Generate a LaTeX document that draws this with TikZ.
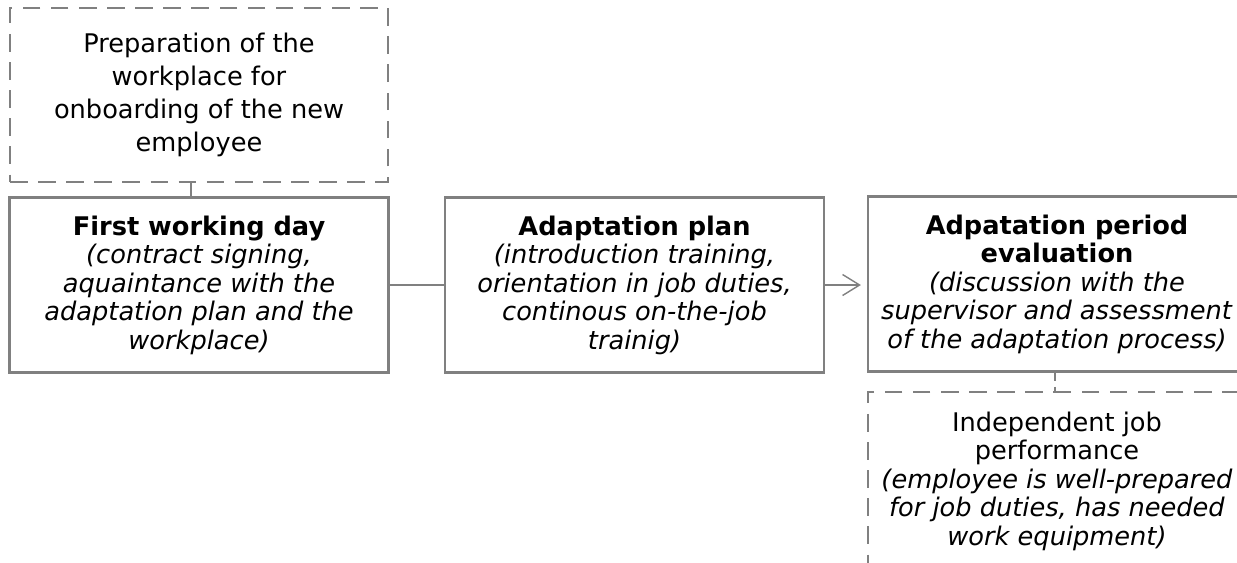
\documentclass[tikz,border=0pt]{standalone}
\usepackage{fontspec}
\setmainfont{DejaVu Sans}
\usetikzlibrary{arrows.meta}
\definecolor{linegray}{RGB}{128,128,128}

\begin{document}
\begin{tikzpicture}[x=0.02cm, y=-0.02cm,
    every node/.style={align=center, font=\fontsize{14.6}{16.2}\selectfont},
    stagebox/.style={draw=linegray, line width=1.3pt, minimum width=7.58cm, minimum height=3.5cm, inner sep=0pt},
    optbox/.style={stagebox, dash pattern=on 10pt off 6pt},
    link/.style={draw=linegray, line width=0.8pt}]
    \useasboundingbox (0,0) rectangle (1237,562);
    \clip (0,0) rectangle (1237,562);

    % boxes
    \node[optbox, minimum width=7.56cm, minimum height=3.48cm,
          font=\fontsize{14.6}{18.8}\selectfont] (prep) at (199,95)
        {Preparation of the\\workplace for\\onboarding of the new\\employee};
    \node[stagebox] (first) at (199,285)
        {\textbf{First working day}\\\textit{(contract signing,}\\\textit{aquaintance with the}\\\textit{adaptation plan and the}\\\textit{workplace)}};
    \node[stagebox] (plan) at (634.5,285)
        {\textbf{Adaptation plan}\\\textit{(introduction training,}\\\textit{orientation in job duties,}\\\textit{continous on-the-job}\\\textit{trainig)}};
    \node[stagebox, minimum width=7.56cm] (eval) at (1057,284)
        {\textbf{Adpatation period}\\\textbf{evaluation}\\\textit{(discussion with the}\\\textit{supervisor and assessment}\\\textit{of the adaptation process)}};
    \node[optbox, minimum width=7.56cm, minimum height=3.56cm] (indep) at (1057,481)
        {Independent job\\performance\\\textit{(employee is well-prepared}\\\textit{for job duties, has needed}\\\textit{work equipment)}};

    % connectors
    \draw[link, line width=1.1pt] ([xshift=-0.16cm]prep.south) -- ([xshift=-0.16cm]first.north);
    \draw[link] (first.east) -- (plan.west);
    \draw[link, shorten >=1.2mm, -{Straight Barb[length=3.4mm, width=4.2mm]}] (plan.east) -- (plan.east -| eval.west);
    \draw[link, dash pattern=on 5pt off 3pt] ([xshift=-0.04cm]eval.south) -- ([xshift=-0.04cm]indep.north);
\end{tikzpicture}
\end{document}
